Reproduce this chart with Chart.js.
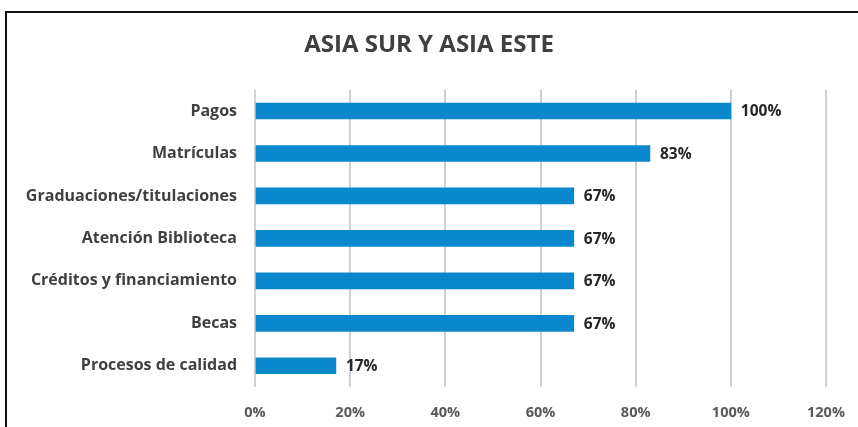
<!DOCTYPE html>
<html>
<head>
<meta charset="utf-8">
<script src="https://cdn.jsdelivr.net/npm/chart.js@4.4.0/dist/chart.umd.min.js"></script>
<style>
  html, body { margin: 0; padding: 0; background: #fff; overflow: hidden; }
  #wrap { position: relative; width: 858px; height: 427px; }
  #frame { position: absolute; left: 5px; top: 11px; width: 870px; height: 440px;
           border: 2px solid #111; box-sizing: border-box; pointer-events: none; }
  canvas { position: absolute; left: 0; top: 0; }
</style>
</head>
<body>
<div id="wrap">
  <canvas id="barchart" width="858" height="427"></canvas>
  <div id="frame"></div>
</div>
<script>
const categories = [
  "Pagos",
  "Matrículas",
  "Graduaciones/titulaciones",
  "Atención Biblioteca",
  "Créditos y financiamiento",
  "Becas",
  "Procesos de calidad"
];
const values = [100, 83, 67, 67, 67, 67, 17];
const xTicks = [0, 20, 40, 60, 80, 100, 120];
const chartTitle = "ASIA SUR Y ASIA ESTE";

const fontName = "'Open Sans', sans-serif";

// draws the "NN%" labels right after each bar end
const valueLabels = {
  id: "valueLabels",
  afterDatasetsDraw(chart) {
    const c = chart.ctx;
    const meta = chart.getDatasetMeta(0);
    c.save();
    c.font = "bold 15.5px " + fontName;
    c.fillStyle = "#262626";
    c.textAlign = "left";
    c.textBaseline = "middle";
    meta.data.forEach((bar, i) => {
      c.fillText(values[i] + "%", bar.x + 10, bar.y + 1);
    });
    c.restore();
  }
};

const ctx = document.getElementById("barchart").getContext("2d");
new Chart(ctx, {
  type: "bar",
  data: {
    labels: categories,
    datasets: [{
      data: values,
      backgroundColor: "#0A88CD",
      borderWidth: 0,
      barThickness: 16
    }]
  },
  plugins: [valueLabels],
  options: {
    indexAxis: "y",
    responsive: false,
    animation: false,
    layout: { padding: 0 },
    plugins: {
      legend: { display: false },
      tooltip: { enabled: false },
      title: {
        display: true,
        text: chartTitle,
        color: "#404040",
        font: { family: fontName, size: 24, weight: "bold", lineHeight: 1.2 },
        padding: { top: 31, bottom: 30 }
      }
    },
    scales: {
      x: {
        min: 0,
        max: 120,
        afterBuildTicks: (scale) => { scale.ticks = xTicks.map(v => ({ value: v })); },
        afterFit: (scale) => {
          scale.height = 40;
          scale.paddingLeft = 0;
          scale.paddingRight = 32;
        },
        grid: { color: "#D0D0D0", lineWidth: 2, drawTicks: false },
        border: { display: false },
        ticks: {
          padding: 17,
          color: "#595959",
          font: { family: fontName, size: 14.5, weight: "bold" },
          callback: (v) => v + "%"
        }
      },
      y: {
        afterFit: (scale) => { scale.width = 255; },
        grid: { display: false, drawTicks: false },
        border: { display: false },
        ticks: {
          padding: 18,
          color: "#404040",
          font: { family: fontName, size: 16, weight: "bold" }
        }
      }
    }
  }
});
</script>
</body>
</html>
